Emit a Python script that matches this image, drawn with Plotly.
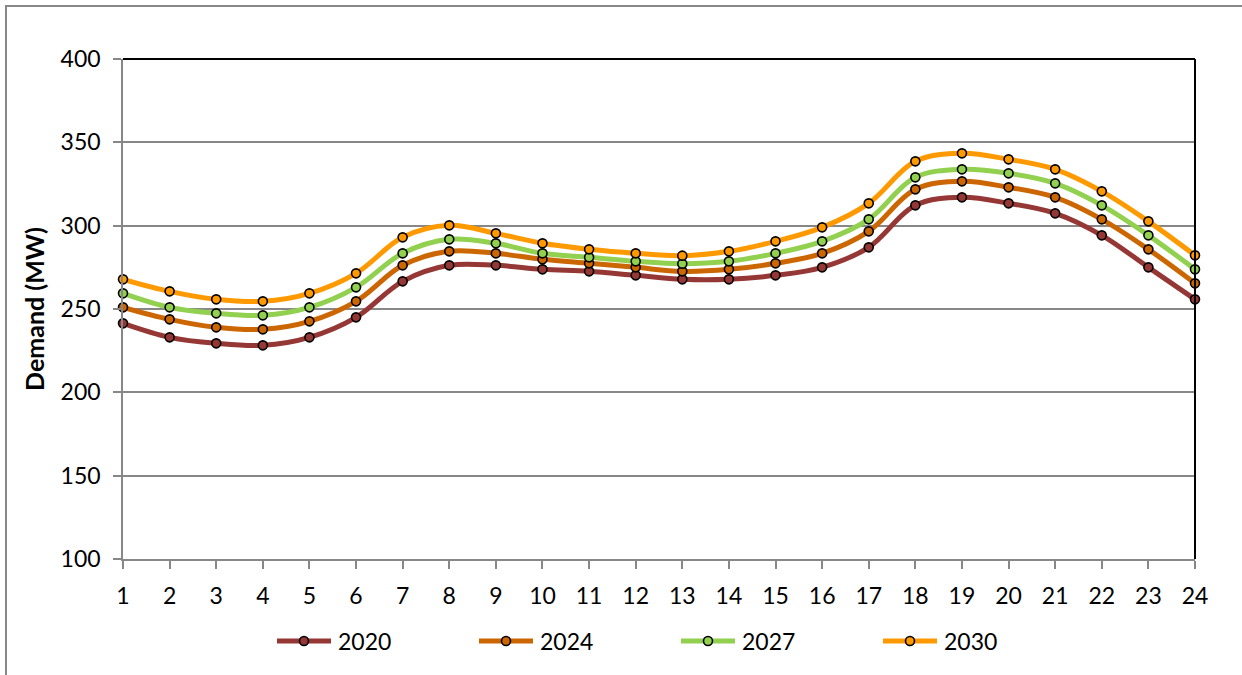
import plotly.graph_objects as go

# Hourly demand profile (MW) for each planning year
hours = list(range(1, 25))
years = ["2020", "2024", "2027", "2030"]
demand_2020 = [241.4, 233.0, 229.4, 228.2, 233.0, 245.0, 266.6, 276.2, 276.2, 273.8, 272.6, 270.2,
               267.8, 267.8, 270.2, 275.0, 287.0, 312.2, 317.0, 313.4, 307.4, 294.2, 275.0, 255.8]
demand_2024 = [251.0, 243.8, 239.0, 237.8, 242.6, 254.6, 276.2, 284.6, 283.4, 279.8, 277.4, 275.0,
               272.6, 273.8, 277.4, 283.4, 296.6, 321.8, 326.6, 323.0, 317.0, 303.8, 285.8, 265.4]
demand_2027 = [259.4, 251.0, 247.4, 246.2, 251.0, 263.0, 283.4, 291.8, 289.4, 283.4, 281.0, 278.6,
               277.2, 278.6, 283.4, 290.6, 303.8, 329.0, 333.8, 331.4, 325.4, 312.2, 294.2, 273.8]
demand_2030 = [267.8, 260.6, 255.8, 254.6, 259.4, 271.4, 293.0, 300.2, 295.4, 289.4, 285.8, 283.4,
               282.0, 284.6, 290.6, 299.0, 313.4, 338.6, 343.4, 339.8, 333.8, 320.6, 302.6, 282.2]
series = [demand_2020, demand_2024, demand_2027, demand_2030]
colors = ["#953735", "#CC6600", "#92D050", "#FF9900"]
y_ticks = [100, 150, 200, 250, 300, 350, 400]

FONT = "Lato"
GRID = "#878787"

# canvas / plot-area geometry in pixels
W, H = 1242, 675
M_L, M_R, M_T, M_B = 123, 47, 59, 116
PW, PH = W - M_L - M_R, H - M_T - M_B


def px_x(px):
    return (px - M_L) / PW


def px_y(py):
    return (H - M_B - py) / PH


fig = go.Figure()
for name, vals, col in zip(years, series, colors):
    fig.add_trace(go.Scatter(
        x=hours, y=vals, name=name, mode="lines+markers",
        line=dict(color=col, width=5, shape="spline", smoothing=1),
        marker=dict(symbol="circle", size=9, color=col, line=dict(color="black", width=1.6)),
        cliponaxis=False, showlegend=False,
    ))

shapes = []
annotations = []

# plot-area border on the top and right edges
shapes.append(dict(type="line", xref="paper", yref="paper", x0=0, x1=1, y0=1, y1=1,
                   line=dict(color="black", width=2), layer="above"))
shapes.append(dict(type="line", xref="paper", yref="paper", x0=1, x1=1, y0=0, y1=1,
                   line=dict(color="black", width=2), layer="above"))

# outer chart frame
shapes.append(dict(type="rect", xref="paper", yref="paper",
                   x0=px_x(6), x1=px_x(W + 20), y0=px_y(H + 20), y1=px_y(6),
                   line=dict(color="#888888", width=2), fillcolor="rgba(0,0,0,0)", layer="below"))

# legend row beneath the axis
leg_y = px_y(641)
for i, (name, col) in enumerate(zip(years, colors)):
    x0 = 277 + 202 * i
    shapes.append(dict(type="line", xref="paper", yref="paper",
                       x0=px_x(x0), x1=px_x(x0 + 54), y0=leg_y, y1=leg_y,
                       line=dict(color=col, width=5)))
    shapes.append(dict(type="circle", xref="paper", yref="paper",
                       xsizemode="pixel", ysizemode="pixel",
                       xanchor=px_x(x0 + 27), yanchor=leg_y,
                       x0=-4.5, x1=4.5, y0=-4.5, y1=4.5,
                       fillcolor=col, line=dict(color="black", width=1.6)))
    annotations.append(dict(xref="paper", yref="paper", x=px_x(x0 + 59), y=leg_y,
                            xanchor="left", yanchor="middle", text=name, showarrow=False,
                            font=dict(family=FONT, size=23, color="black")))

fig.update_layout(
    width=W, height=H,
    margin=dict(l=M_L, r=M_R, t=M_T, b=M_B),
    paper_bgcolor="white", plot_bgcolor="white",
    font=dict(family=FONT, size=23, color="black"),
    shapes=shapes, annotations=annotations,
    showlegend=False,
)
fig.update_xaxes(
    range=[1, 24], tickmode="array", tickvals=hours, ticktext=[str(h) for h in hours],
    showgrid=False, zeroline=False,
    showline=True, linecolor=GRID, linewidth=1.5,
    ticks="outside", ticklen=8, tickcolor=GRID, tickwidth=1.5,
    ticklabelstandoff=8,
    tickfont=dict(family=FONT, size=23, color="black"),
)
fig.update_yaxes(
    range=[100, 400], tickmode="array", tickvals=y_ticks,
    showgrid=True, gridcolor=GRID, gridwidth=1.5, zeroline=False,
    showline=True, linecolor=GRID, linewidth=1.5,
    ticks="outside", ticklen=8, tickcolor=GRID, tickwidth=1.5,
    ticklabelstandoff=8,
    tickfont=dict(family=FONT, size=23, color="black"),
    title=dict(text="<b>Demand (MW)</b>", font=dict(family=FONT, size=25, color="black"), standoff=9),
)

fig.write_html("out.html")
